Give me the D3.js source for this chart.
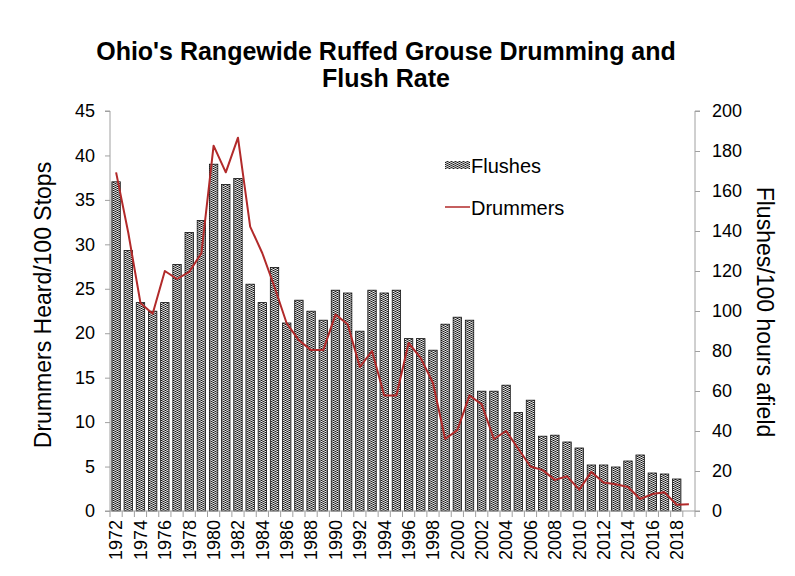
<!DOCTYPE html>
<html><head><meta charset="utf-8">
<script src="https://cdn.jsdelivr.net/npm/d3@7"></script>
<style>body{margin:0;background:#fff}text{font-family:"Liberation Sans",Arial,sans-serif}</style>
</head><body><svg id="c" width="795" height="576"></svg>
<script>
const years = d3.range(1972, 2020);
const flushYears = d3.range(1972, 2019);
const flushes = [164.6,130.3,104.2,99.9,104.2,123.3,139.3,145.3,173.4,163.3,166.3,113.4,104.2,121.8,94.0,105.4,99.9,95.4,110.4,109.0,89.9,110.4,109.0,110.4,86.2,86.2,80.4,93.4,96.9,95.4,59.9,59.9,62.9,49.3,55.4,37.4,37.9,34.5,31.5,23.0,23.0,22.0,25.0,28.0,19.0,18.5,16.0];
const drummers = [38.1,31.3,23.4,22.2,27.0,26.1,26.9,29.0,41.1,38.1,42.0,32.0,29.0,25.2,21.1,19.2,18.1,18.1,22.1,21.0,16.2,18.0,13.0,13.0,18.9,17.2,14.4,8.1,9.1,13.0,12.0,8.1,9.0,7.0,5.0,4.6,3.5,3.9,2.4,4.4,3.2,3.0,2.7,1.35,1.9,2.1,0.7,0.75];
const leftTicks = d3.range(0, 46, 5);
const rightTicks = d3.range(0, 201, 20);
const yearLabels = d3.range(1972, 2019, 2);

const svg = d3.select("#c");
const L = 110, R = 695, T = 111, B = 511;
const x = d3.scaleBand().domain(years).range([L, R]).paddingInner(0.31).paddingOuter(0.155);
const yL = d3.scaleLinear().domain([0, 45]).range([B, T]);
const yR = d3.scaleLinear().domain([0, 200]).range([B, T]);

const defs = svg.append("defs");
const pat = defs.append("pattern").attr("id","dots").attr("patternUnits","userSpaceOnUse").attr("width",4).attr("height",2);
pat.append("rect").attr("width",4).attr("height",2).attr("fill","#8a8a8a");
pat.append("rect").attr("x",1).attr("y",0).attr("width",1).attr("height",1).attr("fill","#111");
pat.append("rect").attr("x",1).attr("y",1).attr("width",1).attr("height",1).attr("fill","#eee");
pat.append("rect").attr("x",3).attr("y",1).attr("width",1).attr("height",1).attr("fill","#222");
pat.append("rect").attr("x",3).attr("y",0).attr("width",1).attr("height",1).attr("fill","#ddd");

const axisColor = "#a0a0a0";

// bars
svg.append("g").selectAll("rect").data(flushYears).join("rect")
  .attr("x", d => x(d)).attr("width", x.bandwidth())
  .attr("y", (d,i) => yR(flushes[i])).attr("height", (d,i) => B - yR(flushes[i]))
  .attr("fill","url(#dots)").attr("stroke","#111").attr("stroke-width",0.8);

// line
const line = d3.line().x((d,i) => x(years[i]) + x.bandwidth()/2).y(d => yL(d));
svg.append("path").datum(drummers).attr("d", line).attr("fill","none")
  .attr("stroke","#b22a2a").attr("stroke-width",2).attr("stroke-linejoin","round");

// left axis
const gl = svg.append("g").attr("transform",`translate(${L},0)`)
  .call(d3.axisLeft(yL).tickValues(leftTicks).tickSize(5).tickPadding(10));
// right axis
const gr = svg.append("g").attr("transform",`translate(${R},0)`)
  .call(d3.axisRight(yR).tickValues(rightTicks).tickSize(5).tickPadding(12));
[gl, gr].forEach(g => {
  g.selectAll("path,line").attr("stroke", axisColor);
  g.selectAll("text").attr("font-size", 18).attr("fill","#000");
});
gl.select(".domain").attr("d", `M-5,${T}H0V${B}H-5`);
gr.select(".domain").attr("d", `M5,${T}H0V${B}H5`);

// bottom axis
const gb = svg.append("g");
gb.append("line").attr("x1",L).attr("x2",R).attr("y1",B).attr("y2",B).attr("stroke",axisColor);
const bounds = years.map(d => x(d) - x.step()*x.paddingInner()/2).concat([R]);
gb.selectAll("line.t").data(bounds).join("line").attr("class","t")
  .attr("x1",d=>d).attr("x2",d=>d).attr("y1",B).attr("y2",B+6).attr("stroke",axisColor);
gb.selectAll("text").data(yearLabels).join("text")
  .attr("transform", d => `translate(${x(d)+x.bandwidth()/2},${B+9}) rotate(-90)`)
  .attr("text-anchor","end").attr("dy","0.35em").attr("font-size",18).text(d => d);

// titles
svg.append("text").attr("x",386).attr("y",60).attr("text-anchor","middle").attr("font-size",25).attr("font-weight","bold").text("Ohio's Rangewide Ruffed Grouse Drumming and");
svg.append("text").attr("x",386).attr("y",87).attr("text-anchor","middle").attr("font-size",25).attr("font-weight","bold").text("Flush Rate");
svg.append("text").attr("transform","translate(51,305) rotate(-90)").attr("text-anchor","middle").attr("font-size",23).text("Drummers Heard/100 Stops");
svg.append("text").attr("transform","translate(757,312) rotate(90)").attr("text-anchor","middle").attr("font-size",23).text("Flushes/100 hours afield");

// legend
const lg = svg.append("g");
lg.append("rect").attr("x",445).attr("y",161).attr("width",25).attr("height",8).attr("fill","url(#dots)");
lg.append("text").attr("x",471).attr("y",173).attr("font-size",20).text("Flushes");
lg.append("line").attr("x1",445).attr("x2",470).attr("y1",207).attr("y2",207).attr("stroke","#b22a2a").attr("stroke-width",1.5);
lg.append("text").attr("x",471).attr("y",215).attr("font-size",20).text("Drummers");
</script></body></html>
